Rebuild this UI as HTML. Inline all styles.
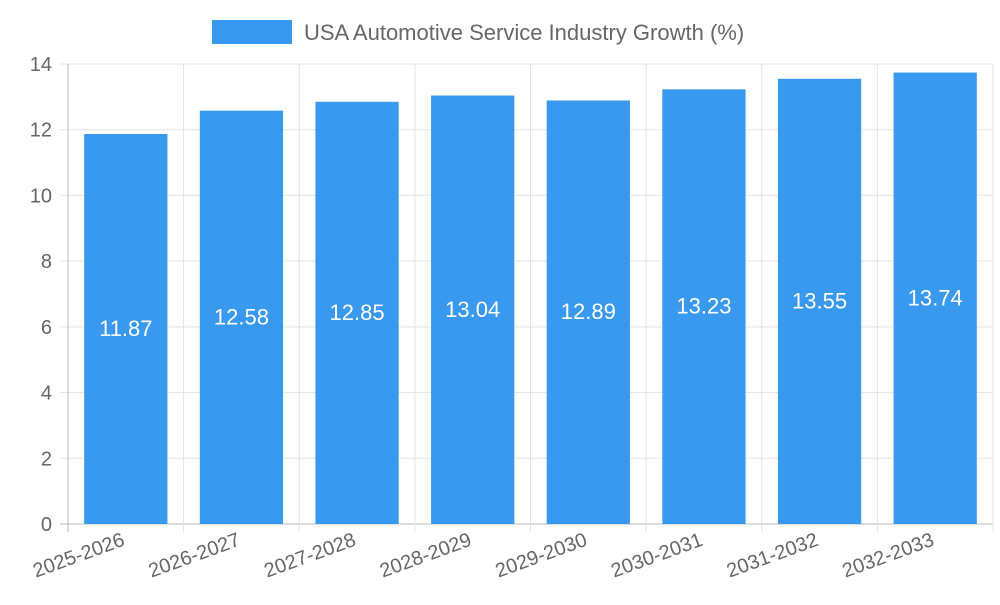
<!DOCTYPE html>
<html><head><meta charset="utf-8"><style>
body{margin:0;background:#fff;}
svg{font-family:"Liberation Sans",sans-serif;}
</style></head><body>
<svg id="chart" width="1000" height="600">
<g>
<rect x="212" y="20" width="80" height="24" fill="#3899ee"/>
<text x="304" y="40" font-size="22" fill="#666">USA Automotive Service Industry Growth (%)</text>
</g>
<g id="grid"></g><g id="bars"></g><g id="labels"></g>
</svg>
<script>
const categories=["2025-2026","2026-2027","2027-2028","2028-2029","2029-2030","2030-2031","2031-2032","2032-2033"];
const values=[11.87,12.58,12.85,13.04,12.89,13.23,13.55,13.74];
const yTicks=[0,2,4,6,8,10,12,14];
const L=68,R=993,T=64,B=524,yMax=14;
const ns="http://www.w3.org/2000/svg";
const y=v=>B-(v/yMax)*(B-T);
const bw=(R-L)/categories.length;
const x=i=>L+bw*i;
function mk(tag,attrs,parent,txt){const e=document.createElementNS(ns,tag);for(const k in attrs)e.setAttribute(k,attrs[k]);if(txt!==undefined)e.textContent=txt;document.getElementById(parent).appendChild(e);return e;}
yTicks.forEach(t=>{
 const l=mk('line',{x1:L-8,x2:R,y1:y(t),y2:y(t),stroke:t===0?'#bbb':'#e3e3e3','stroke-width':1},'grid');
 
 
 const tx=mk('text',{x:L-16,y:y(t)+7,'text-anchor':'end','font-size':20,fill:'#666'},'grid',t);
 
 
});
for(let i=0;i<=categories.length;i++){
 const l=mk('line',{x1:x(i),x2:x(i),y1:T,y2:B+8,stroke:i===0?'#bbb':'#e3e3e3','stroke-width':1},'grid');
 
 
}
categories.forEach((c,i)=>{
 const w=bw*0.72, bx=x(i)+(bw-w)/2;
 const r=mk('rect',{x:bx,y:y(values[i]),width:w,height:B-y(values[i]),fill:'#3899ee'},'bars');
 
 
 const v=mk('text',{x:x(i)+bw/2,y:(y(values[i])+B)/2+7,'text-anchor':'middle','font-size':22,fill:'#fff'},'labels',values[i].toFixed(2));
 
 
 const cx=x(i)+bw/2;
 const t=mk('text',{x:cx,y:545,'text-anchor':'end','font-size':20,fill:'#666',transform:`rotate(-20 ${cx} 545)`},'labels',c);
 
 
});
</script>
</body></html>
